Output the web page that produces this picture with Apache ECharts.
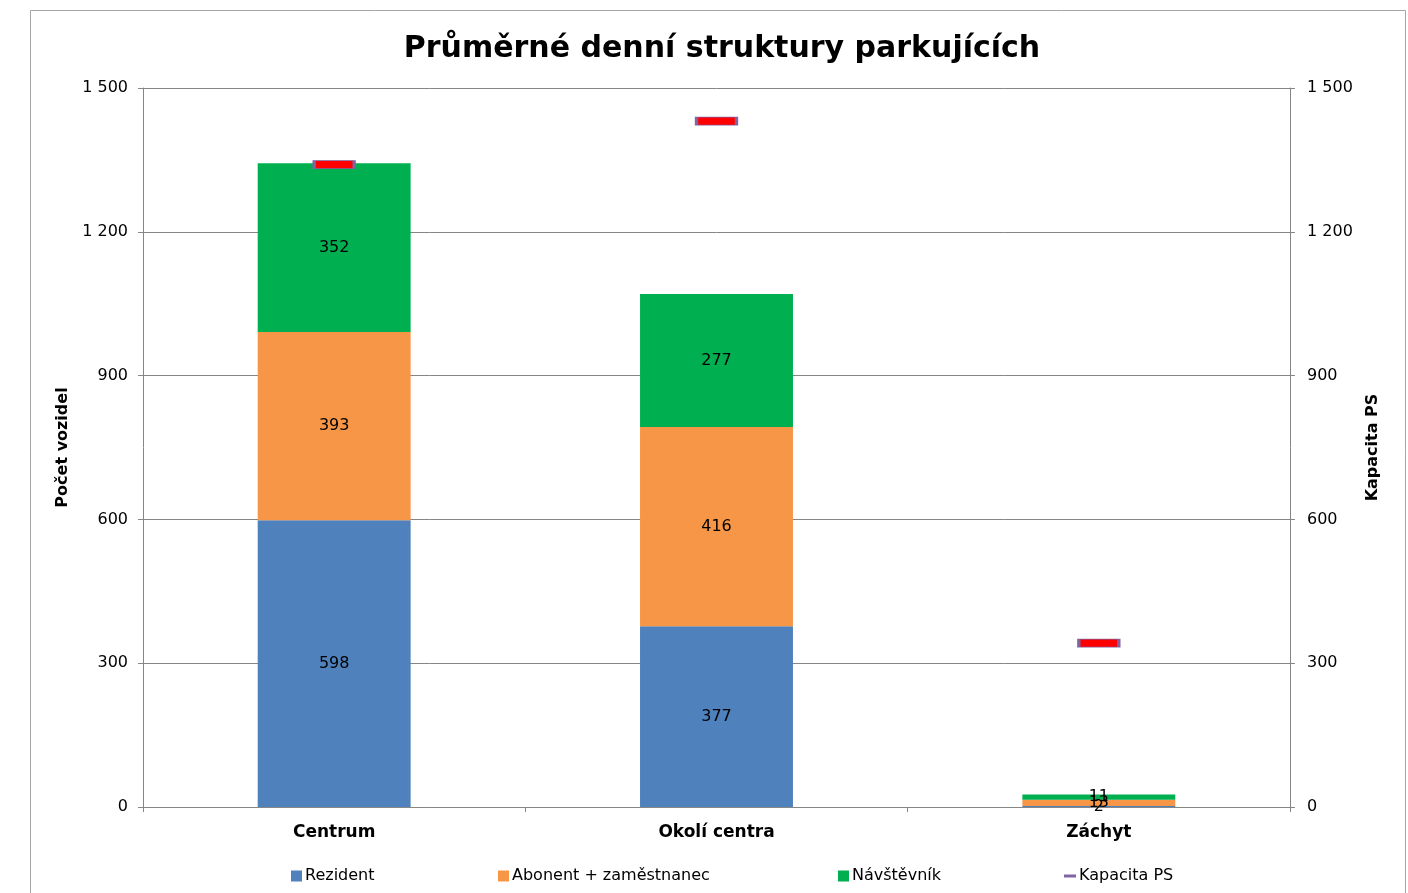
<!DOCTYPE html>
<html>
<head>
<meta charset="utf-8">
<script src="https://cdn.jsdelivr.net/npm/echarts@6/dist/echarts.min.js"></script>
<style>
  html, body { margin: 0; padding: 0; background: #fff; }
  #chart { width: 1408px; height: 893px; }
</style>
</head>
<body>
<div id="chart"></div>
<script>
const categories = ['Centrum', 'Okolí centra', 'Záchyt'];
const rezident = [598, 377, 2];
const abonent = [393, 416, 13];
const navstevnik = [352, 277, 11];
const kapacita = [1340, 1431, 342];
const yTicks = [0, 300, 600, 900, 1200, 1500];

const font = 'Tahoma, "DejaVu Sans", Verdana, sans-serif';
const fmt = v => String(v).replace(/\B(?=(\d{3})+(?!\d))/g, ' ');

const chart = echarts.init(document.getElementById('chart'));

const barLabel = {
  show: true,
  position: 'inside',
  color: '#000',
  fontSize: 16,
  fontFamily: font
};

const legendBase = {
  top: 863,
  itemWidth: 11,
  itemHeight: 11,
  itemGap: 3,
  textStyle: { fontSize: 16, fontFamily: font, color: '#000', padding: [0, 0, 0, -2] }
};

chart.setOption({
  animation: false,
  color: ['#4F81BD', '#F79646', '#00B050', '#8064A2'],
  title: {
    text: 'Průměrné denní struktury parkujících',
    left: 717,
    top: 29,
    textAlign: 'center',
    textStyle: { fontSize: 30, fontWeight: 'bold', fontFamily: font, color: '#000' }
  },
  graphic: [{
    type: 'rect',
    shape: { x: 30.5, y: 10.5, width: 1375, height: 900 },
    style: { fill: 'none', stroke: '#a6a6a6', lineWidth: 1 },
    silent: true
  }],
  legend: [
    Object.assign({}, legendBase, { left: 286, data: [{ name: 'Rezident', icon: 'rect' }] }),
    Object.assign({}, legendBase, { left: 493, data: [{ name: 'Abonent + zaměstnanec', icon: 'rect' }] }),
    Object.assign({}, legendBase, { left: 833, data: [{ name: 'Návštěvník', icon: 'rect' }] }),
    Object.assign({}, legendBase, {
      left: 1059, itemWidth: 12, itemHeight: 3,
      data: [{ name: 'Kapacita PS', icon: 'rect', itemStyle: { color: '#8064A2', borderWidth: 0 } }]
    })
  ],
  grid: { left: 143, right: 118, top: 88, bottom: 86 },
  xAxis: {
    type: 'category',
    data: categories,
    axisLine: { lineStyle: { color: '#868686' } },
    axisTick: { show: true, length: 5, lineStyle: { color: '#868686' } },
    axisLabel: { color: '#000', fontSize: 17, fontWeight: 'bold', fontFamily: font, margin: 17 }
  },
  yAxis: [
    {
      type: 'value',
      min: yTicks[0],
      max: yTicks[yTicks.length - 1],
      interval: 300,
      name: 'Počet vozidel',
      nameLocation: 'middle',
      nameGap: 72,
      nameTextStyle: { fontSize: 16, fontWeight: 'bold', fontFamily: font, color: '#000' },
      axisLine: { show: true, lineStyle: { color: '#868686' } },
      axisTick: { show: true, length: 5, lineStyle: { color: '#868686' } },
      splitLine: { lineStyle: { color: '#868686' } },
      axisLabel: { color: '#000', fontSize: 16, fontFamily: font, margin: 15, formatter: fmt }
    },
    {
      type: 'value',
      min: yTicks[0],
      max: yTicks[yTicks.length - 1],
      interval: 300,
      name: 'Kapacita PS',
      nameLocation: 'middle',
      nameGap: 75,
      nameRotate: 90,
      nameTextStyle: { fontSize: 16, fontWeight: 'bold', fontFamily: font, color: '#000' },
      axisLine: { show: true, lineStyle: { color: '#868686' } },
      axisTick: { show: true, length: 5, lineStyle: { color: '#868686' } },
      splitLine: { show: false },
      axisLabel: { color: '#000', fontSize: 16, fontFamily: font, margin: 17, formatter: fmt }
    }
  ],
  series: [
    { name: 'Rezident', type: 'bar', stack: 'a', barWidth: '40%', data: rezident, label: barLabel },
    { name: 'Abonent + zaměstnanec', type: 'bar', stack: 'a', data: abonent, label: barLabel },
    { name: 'Návštěvník', type: 'bar', stack: 'a', data: navstevnik, label: barLabel },
    {
      name: 'Kapacita PS',
      type: 'line',
      yAxisIndex: 1,
      data: kapacita,
      symbol: 'rect',
      symbolSize: [40, 8],
      lineStyle: { width: 0, opacity: 0 },
      itemStyle: { color: '#FF0000', borderColor: '#8064A2', borderWidth: 1.5 },
      z: 5
    }
  ]
});
</script>
</body>
</html>
